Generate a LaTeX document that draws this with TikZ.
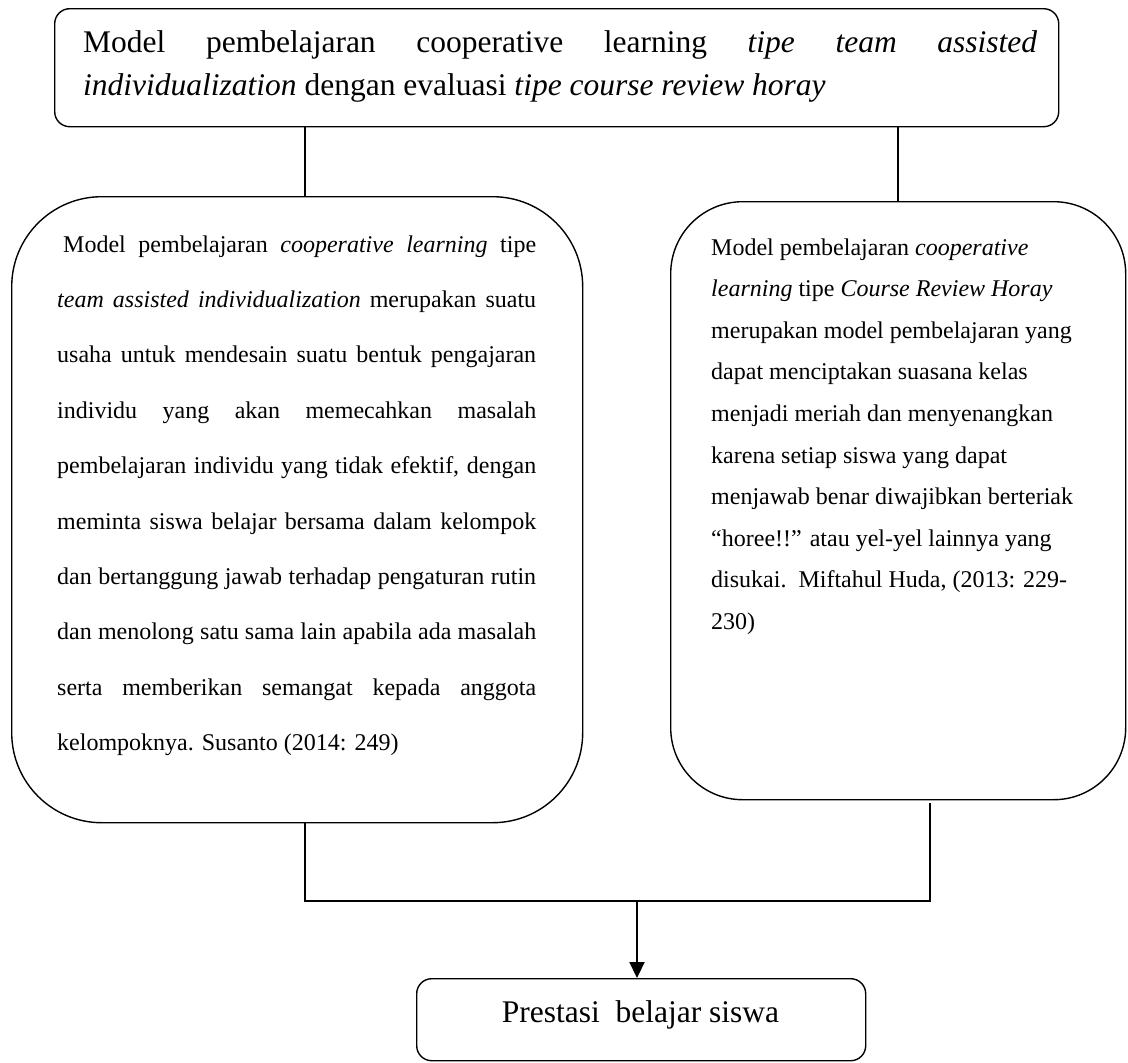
\documentclass[tikz,border=0pt]{standalone}
\usepackage{fontspec}
\setmainfont{Liberation Serif}
\usetikzlibrary{arrows.meta}
\begin{document}
\begin{tikzpicture}[x=1pt,y=-1pt,
  box/.style={draw, line width=1.4pt, inner sep=0pt, anchor=north west},
  bigtxt/.style={anchor=base west, inner sep=0pt, font=\fontsize{31.5}{36}\selectfont},
  ltxt/.style={anchor=base west, inner sep=0pt, font=\fontsize{24}{28}\selectfont},
  conn/.style={line width=1.4pt},
  arr/.style={line width=2.2pt, -{Triangle[length=16pt,width=15pt]}}]
\useasboundingbox (0,0) rectangle (1128,1063);

% boxes
\node[box, rounded corners=15pt, minimum width=1004pt, minimum height=118pt] (top) at (54,8) {};
\node[box, rounded corners=90pt, minimum width=571pt, minimum height=626pt] (left) at (11,196) {};
\node[box, rounded corners=72pt, minimum width=455pt, minimum height=598pt] (right) at (670,201) {};
\node[box, rounded corners=15pt, minimum width=449pt, minimum height=82pt] (pres) at (416,978) {};

% top text
\node[bigtxt] (t1) at (83,52) {\makebox[954pt][s]{Model pembelajaran cooperative learning \textit{tipe team assisted}}};
\node[bigtxt] (t2) at (83,95) {\textit{individualization} dengan evaluasi \textit{tipe course review horay}};

% left text
\node[ltxt] (l1) at (63,252) {\makebox[473pt][s]{Model pembelajaran \textit{cooperative learning} tipe}};
\node[ltxt] (l2) at (57,307.4) {\makebox[479pt][s]{\textit{team assisted individualization} merupakan suatu}};
\node[ltxt] (l3) at (57,362.8) {\makebox[479pt][s]{usaha untuk mendesain suatu bentuk pengajaran}};
\node[ltxt] (l4) at (57,418.2) {\makebox[479pt][s]{individu yang akan memecahkan masalah}};
\node[ltxt] (l5) at (57,473.6) {\makebox[479pt][s]{pembelajaran individu yang tidak efektif, dengan}};
\node[ltxt] (l6) at (57,529) {\makebox[479pt][s]{meminta siswa belajar bersama dalam kelompok}};
\node[ltxt] (l7) at (57,584.4) {\makebox[479pt][s]{dan bertanggung jawab terhadap pengaturan rutin}};
\node[ltxt] (l8) at (57,639.8) {\makebox[479pt][s]{dan menolong satu sama lain apabila ada masalah}};
\node[ltxt] (l9) at (57,695.2) {\makebox[479pt][s]{serta memberikan semangat kepada anggota}};
\node[ltxt] (l10) at (57,750.6) {kelompoknya. Susanto (2014: 249)};

% right text
\node[ltxt] (r1) at (711,255) {Model pembelajaran \textit{cooperative}};
\node[ltxt] (r2) at (711,296.6) {\textit{learning} tipe \textit{Course Review Horay}};
\node[ltxt] (r3) at (711,338.2) {merupakan model pembelajaran yang};
\node[ltxt] (r4) at (711,379.8) {dapat menciptakan suasana kelas};
\node[ltxt] (r5) at (711,421.4) {menjadi meriah dan menyenangkan};
\node[ltxt] (r6) at (711,463) {karena setiap siswa yang dapat};
\node[ltxt] (r7) at (711,504.6) {menjawab benar diwajibkan berteriak};
\node[ltxt] (r8) at (711,546.2) {“horee!!” atau yel-yel lainnya yang};
\node[ltxt] (r9) at (711,587.8) {disukai.\ \ Miftahul Huda, (2013: 229-};
\node[ltxt] (r10) at (711,629.4) {230)};

% bottom text
\node[anchor=base, inner sep=0pt, font=\fontsize{31.5}{36}\selectfont] (p) at (640.5,1022) {Prestasi\ \ belajar siswa};

% connectors
\coordinate (cl) at (305,0);
\coordinate (cr) at (898,0);
\coordinate (bl) at (305,901);
\coordinate (br) at (930,901);
\coordinate (brt) at (930,803);
\coordinate (mid) at (637,901);
\draw[conn] (top.south -| cl) -- (left.north -| cl);
\draw[conn] (top.south -| cr) -- (right.north -| cr);
\draw[conn] (left.south -| bl) -- (bl) -- (br) -- (brt);
\draw[arr] (mid) -- (pres.north -| mid);
\end{tikzpicture}
\end{document}
